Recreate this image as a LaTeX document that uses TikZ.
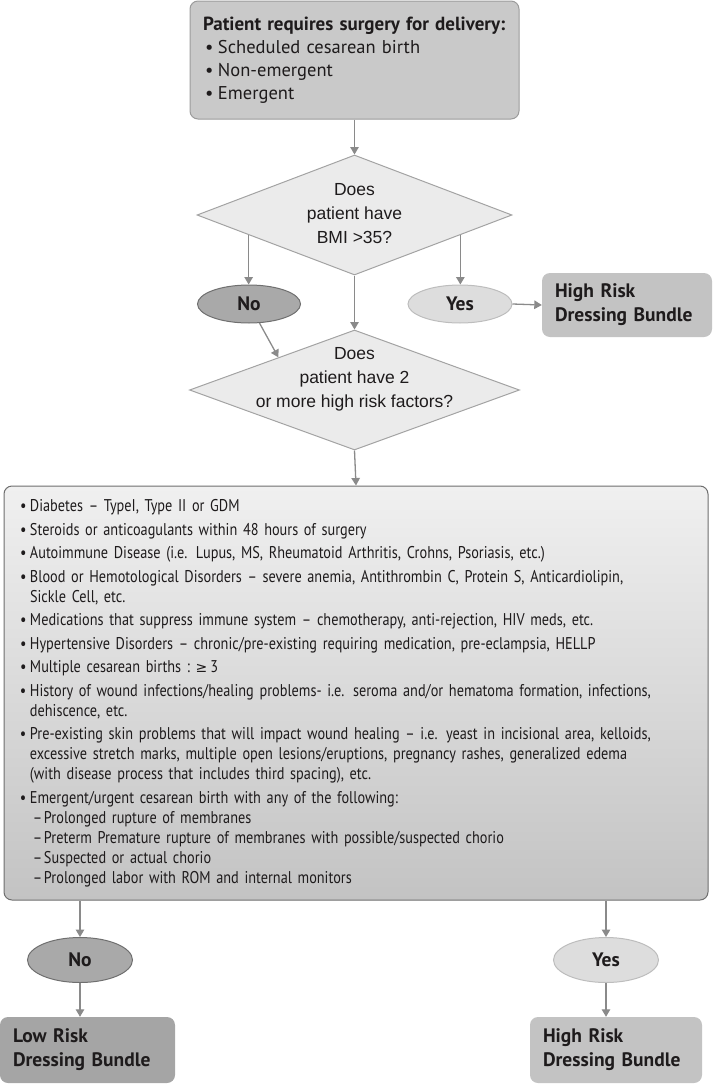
\documentclass[tikz,border=0pt]{standalone}
\usepackage{fontspec}
\setmainfont{PT Sans}
\newfontfamily\condfont[FakeStretch=0.84]{PT Sans}
\newfontfamily\arialfont{Liberation Sans}
\newfontfamily\dvfont{DejaVu Sans}
\usetikzlibrary{shapes.geometric,arrows.meta,calc}
\definecolor{txt}{HTML}{1E1B1C}
\definecolor{arrowgray}{HTML}{8A8A8A}
\definecolor{topfill}{HTML}{C9C9C9}
\definecolor{topdraw}{HTML}{9B9B9B}
\definecolor{diafill}{HTML}{EBEBEB}
\definecolor{diadraw}{HTML}{A3A3A3}
\definecolor{nofill}{HTML}{A9A9A9}
\definecolor{nodraw}{HTML}{6F6F6F}
\definecolor{yesfill}{HTML}{DDDDDD}
\definecolor{yesdraw}{HTML}{BDBDBD}
\definecolor{hrfill}{HTML}{C3C3C3}
\definecolor{lowfill}{HTML}{A5A5A5}
\definecolor{listtop}{HTML}{F0F0F0}
\definecolor{listbot}{HTML}{C3C3C3}
\definecolor{listdraw}{HTML}{6E6E6E}
\newcommand{\bul}{\makebox[10pt][l]{•}}
\newcommand{\cont}{\makebox[10pt]{}}
\newcommand{\subi}{\makebox[13pt]{}\makebox[11pt][l]{–}}
\newcommand{\tbul}{\makebox[2pt]{}\makebox[13pt][l]{•}}
\begin{document}
\begin{tikzpicture}[x=1pt,y=-1pt,
  every node/.style={text=txt},
  arr/.style={draw=arrowgray, line width=1.3pt, -{Triangle[width=8.5pt,length=7.5pt]}},
  topbox/.style={rectangle, rounded corners=8pt, draw=topdraw, fill=topfill, line width=1pt,
     minimum width=329pt, minimum height=118pt, text width=303pt, inner xsep=13pt, align=left,
     font=\fontsize{18.5}{23}\selectfont},
  dec/.style={diamond, draw=diadraw, fill=diafill, line width=1pt, inner sep=0pt},
  diatext/.style={align=center, font=\arialfont\fontsize{17.5}{24}\selectfont},
  nooval/.style={ellipse, draw=nodraw, fill=nofill, line width=1pt, font=\bfseries\fontsize{19.5}{23}\selectfont},
  yesoval/.style={ellipse, draw=yesdraw, fill=yesfill, line width=1pt, font=\bfseries\fontsize{19.5}{23}\selectfont},
  result/.style={rectangle, rounded corners=8pt, align=left, inner xsep=13pt,
     font=\bfseries\fontsize{19.5}{24}\selectfont},
  listbox/.style={rectangle, rounded corners=8pt, draw=listdraw, line width=1pt,
     top color=listtop, bottom color=listbot, minimum width=704pt, minimum height=414pt,
     text width=672pt, inner xsep=16pt, align=left, font=\condfont\fontsize{17}{20}\selectfont}
]
\useasboundingbox (0,0) rectangle (714,1084);

\node[topbox] (start) at (354.5,60) {{\bfseries\fontsize{19}{23}\selectfont Patient requires surgery for delivery:}\\
\tbul Scheduled cesarean birth\\
\tbul Non-emergent\\
\tbul Emergent};

\node[dec, minimum width=315pt, minimum height=120pt] (q1) at (354.5,215) {};
\node[diatext] (q1t) at (354.5,214) {Does\\patient have\\BMI >35?};

\node[nooval, minimum width=103pt, minimum height=38pt] (no1) at (249,304) {No};
\node[yesoval, minimum width=104pt, minimum height=38pt] (yes1) at (460,304) {Yes};
\node[result, fill=hrfill, minimum width=170pt, minimum height=64pt, text width=144pt] (hr1) at (627,305) {High Risk\\Dressing Bundle};

\node[dec, minimum width=330pt, minimum height=120pt] (q2) at (354.5,390) {};
\node[diatext] (q2t) at (354.5,379) {Does\\patient have 2\\or more high risk factors?};

\node[listbox] (list) at (356,693) {%
\bul Diabetes – TypeI, Type II or GDM\\[3.5pt]
\bul Steroids or anticoagulants within 48 hours of surgery\\[3.5pt]
\bul Autoimmune Disease (i.e. Lupus, MS, Rheumatoid Arthritis, Crohns, Psoriasis, etc.)\\[3.5pt]
\bul Blood or Hemotological Disorders – severe anemia, Antithrombin C, Protein S, Anticardiolipin,\\
\cont Sickle Cell, etc.\\[3.5pt]
\bul Medications that suppress immune system – chemotherapy, anti-rejection, HIV meds, etc.\\[3.5pt]
\bul Hypertensive Disorders – chronic/pre-existing requiring medication, pre-eclampsia, HELLP\\[3.5pt]
\bul Multiple cesarean births :\ {\dvfont\fontsize{14}{20}\selectfont ≥}\,3\\[3.5pt]
\bul History of wound infections/healing problems- i.e. seroma and/or hematoma formation, infections,\\
\cont dehiscence, etc.\\[3.5pt]
\bul Pre-existing skin problems that will impact wound healing – i.e. yeast in incisional area, kelloids,\\
\cont excessive stretch marks, multiple open lesions/eruptions, pregnancy rashes, generalized edema\\
\cont (with disease process that includes third spacing), etc.\\[3.5pt]
\bul Emergent/urgent cesarean birth with any of the following:\\
\subi Prolonged rupture of membranes\\
\subi Preterm Premature rupture of membranes with possible/suspected chorio\\
\subi Suspected or actual chorio\\
\subi Prolonged labor with ROM and internal monitors};

\node[nooval, minimum width=105pt, minimum height=45pt] (no2) at (80,960) {No};
\node[yesoval, minimum width=105pt, minimum height=45pt] (yes2) at (606,960) {Yes};
\node[result, fill=lowfill, minimum width=175pt, minimum height=66pt, text width=149pt] (low) at (87.5,1050) {Low Risk\\Dressing Bundle};
\node[result, fill=hrfill, minimum width=172pt, minimum height=66pt, text width=146pt] (hr2) at (616,1050) {High Risk\\Dressing Bundle};

\coordinate (q1l) at ($(q1.west)!0.33!(q1.south)$);
\coordinate (q1r) at ($(q1.east)!0.33!(q1.south)$);
\coordinate (q2in) at ($(q2.west)!0.54!(q2.north)$);

\draw[arr] (start.south) -- (q1.north);
\draw[arr] (q1l) -- (q1l |- no1.north);
\draw[arr] (q1r) -- (q1r |- yes1.north);
\draw[arr] (q1.south) -- (q2.north);
\draw[arr] (yes1.east) -- (hr1.west);
\draw[arr] (no1) -- (q2in);
\draw[arr] (q2.south) -- (list.north);
\draw[arr] (no2 |- list.south) -- (no2.north);
\draw[arr] (yes2 |- list.south) -- (yes2.north);
\draw[arr] (no2.south) -- (no2.south |- low.north);
\draw[arr] (yes2.south) -- (yes2.south |- hr2.north);
\end{tikzpicture}
\end{document}
